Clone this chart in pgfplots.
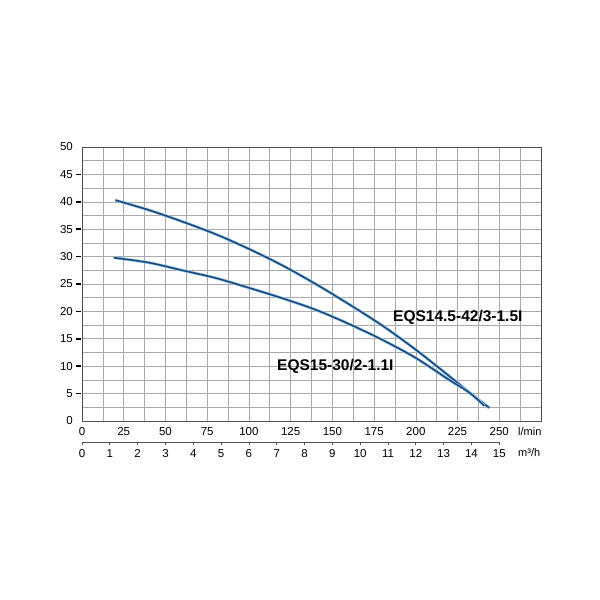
\documentclass[border=0pt]{standalone}
\usepackage{fontspec}
\setmainfont{Liberation Sans}
\usepackage{pgfplots}
\pgfplotsset{compat=1.18}
\definecolor{curve}{RGB}{30,72,122}
\definecolor{halo}{RGB}{150,205,240}
\definecolor{gridc}{RGB}{170,170,170}
\definecolor{framec}{RGB}{80,80,80}
\pgfplotstableread{
Q H
20 40.3
40 38.5
60 36.4
80 34.1
100 31.4
120 28.4
140 25.0
160 21.3
180 17.4
200 13.0
220 8.2
233 5.0
244 2.4
}\pumpA
\pgfplotstableread{
Q H
19 29.8
40 28.9
60 27.5
80 26.1
100 24.3
120 22.4
140 20.3
160 17.7
180 14.8
200 11.5
220 7.5
232 5.2
241 2.8
}\pumpB
\begin{document}
\begin{tikzpicture}[x=1pt,y=1pt]
\useasboundingbox (0,0) rectangle (600,600);
\begin{axis}[
  at={(82pt,179pt)}, anchor=south west,
  scale only axis, width=459pt, height=274pt,
  xmin=0, xmax=275, ymin=0, ymax=50,
  xtick={0,25,...,250}, minor xtick={12.5,37.5,...,262.5},
  ytick={0,5,...,50},
  minor ytick={2.5,7.5,...,47.5},
  grid=both,
  major grid style={gridc, line width=0.6pt},
  minor grid style={gridc, line width=0.6pt},
  major tick length=0pt, minor tick length=0pt,
  axis line style={framec, line width=0.8pt},
  /pgf/number format/assume math mode=true,
  ticklabel style={font=\fontsize{11.5}{13}\selectfont},
  xticklabel style={anchor=center, yshift=-10.5pt},
  yticklabel style={anchor=east, inner sep=0pt, xshift=-9pt},
  clip=false,
]
\addplot[halo, line width=3pt, smooth, tension=0.55] table[x=Q,y=H] {\pumpA};
\addplot[curve, line width=1.6pt, smooth, tension=0.55] table[x=Q,y=H] {\pumpA};
\addplot[halo, line width=3pt, smooth, tension=0.55] table[x=Q,y=H] {\pumpB};
\addplot[curve, line width=1.6pt, smooth, tension=0.55] table[x=Q,y=H] {\pumpB};
\end{axis}
\foreach \h in {5,10,...,45} {
  \draw[black, line width=1.6pt] (75.5,179+\h*5.48) -- (81,179+\h*5.48);
}
\begin{axis}[
  at={(82pt,158pt)}, anchor=south west,
  scale only axis, width=417.27pt, height=10pt,
  xmin=0, xmax=15, ymin=0, ymax=1,
  hide y axis, axis x line*=bottom,
  axis line style={-, framec, line width=0.8pt},
  xtick={0,1,...,15}, tick align=outside, major tick length=3.5pt,
  tick style={framec, line width=0.8pt},
  /pgf/number format/assume math mode=true,
  xticklabel style={anchor=center, yshift=-8.2pt, font=\fontsize{11.5}{13}\selectfont},
]
\addplot[draw=none] coordinates {(0,0) (15,1)};
\end{axis}
\node[anchor=west, inner sep=0pt, font=\bfseries\fontsize{15.5}{18}\selectfont] at (393,283) {EQS14.5-42/3-1.5I};
\node[anchor=west, inner sep=0pt, font=\bfseries\fontsize{15.5}{18}\selectfont] at (277,234) {EQS15-30/2-1.1I};
\node[anchor=west, inner sep=0pt, font=\fontsize{11}{12}\selectfont] at (518,168) {l/min};
\node[anchor=west, inner sep=0pt, font=\fontsize{11}{12}\selectfont] at (518,147.3) {m³/h};
\end{tikzpicture}
\end{document}
